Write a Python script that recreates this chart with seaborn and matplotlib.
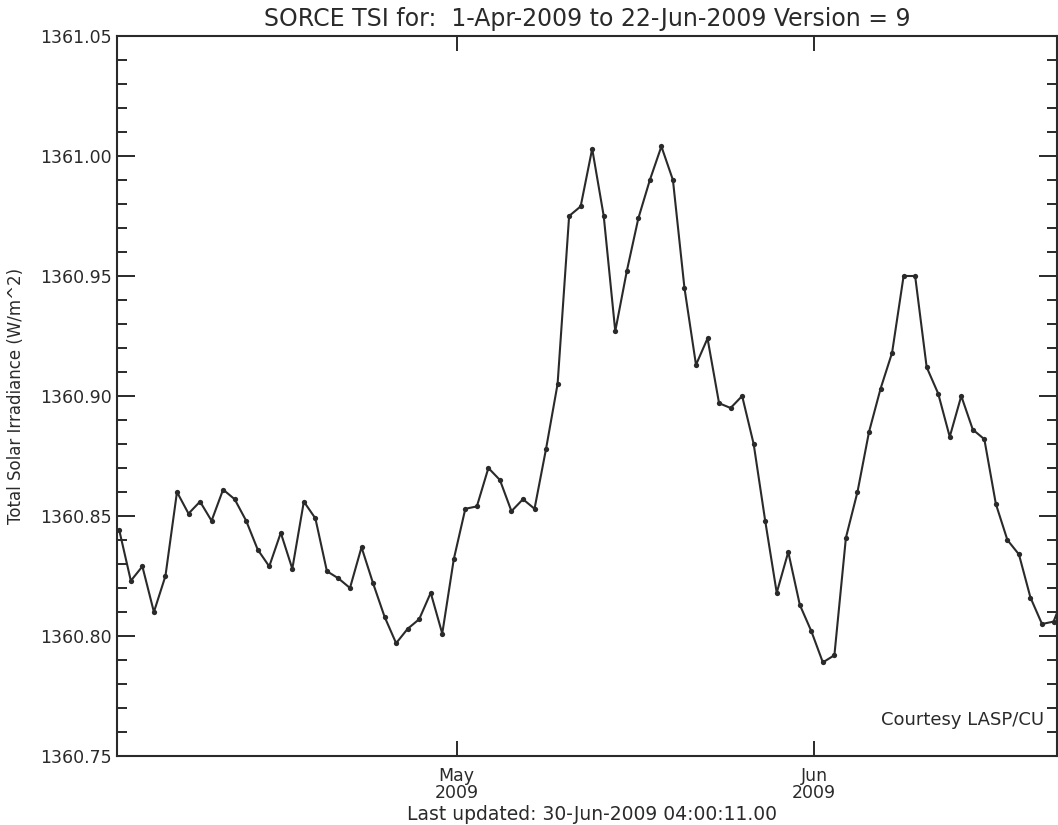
import numpy as np
import pandas as pd
import matplotlib
matplotlib.use("Agg")
from matplotlib import pyplot as plt
import matplotlib.dates as mdates
from matplotlib.ticker import MultipleLocator, AutoMinorLocator, FormatStrFormatter
import seaborn as sns

# SORCE TSI daily values, 1 Apr 2009 - 22 Jun 2009
dates = pd.date_range("2009-04-01 18:00", "2009-06-22 18:00", freq="D")
tsi = [
    1360.844, 1360.823, 1360.829, 1360.810, 1360.825, 1360.860, 1360.851, 1360.856,
    1360.848, 1360.861, 1360.857, 1360.848, 1360.836, 1360.829, 1360.843, 1360.828,
    1360.856, 1360.849, 1360.827, 1360.824, 1360.820, 1360.837, 1360.822, 1360.808,
    1360.797, 1360.803, 1360.807, 1360.818, 1360.801, 1360.832, 1360.853, 1360.854,
    1360.870, 1360.865, 1360.852, 1360.857, 1360.853, 1360.878, 1360.905, 1360.975,
    1360.979, 1361.003, 1360.975, 1360.927, 1360.952, 1360.974, 1360.990, 1361.004,
    1360.990, 1360.945, 1360.913, 1360.924, 1360.897, 1360.895, 1360.900, 1360.880,
    1360.848, 1360.818, 1360.835, 1360.813, 1360.802, 1360.789, 1360.792, 1360.841,
    1360.860, 1360.885, 1360.903, 1360.918, 1360.950, 1360.950, 1360.912, 1360.901,
    1360.883, 1360.900, 1360.886, 1360.882, 1360.855, 1360.840, 1360.834, 1360.816,
    1360.805, 1360.806, 1360.818,
]

df = pd.DataFrame({"date": dates, "tsi": tsi})

title = "SORCE TSI for:  1-Apr-2009 to 22-Jun-2009 Version = 9"
ylabel = "Total Solar Irradiance (W/m^2)"
footer = "Last updated: 30-Jun-2009 04:00:11.00"
credit = "Courtesy LASP/CU"

sns.set_style("ticks")
plt.rcParams['font.family'] = ['DejaVu Sans']

ink = "#2a2a2a"

fig = plt.figure(figsize=(10.58, 8.25), dpi=100)
ax = fig.add_axes([117 / 1058, 69 / 825, 940 / 1058, 720 / 825])

sns.lineplot(data=df, x="date", y="tsi", ax=ax, color=ink, linewidth=1.5,
             marker="o", markersize=3.8, markeredgewidth=0)

ax.set_xlim(pd.Timestamp("2009-04-01 13:12"), pd.Timestamp("2009-06-22 01:12"))
ax.set_ylim(1360.75, 1361.05)

ax.xaxis.set_major_locator(mdates.MonthLocator())
ax.xaxis.set_major_formatter(mdates.DateFormatter("%b\n%Y"))
ax.yaxis.set_major_locator(MultipleLocator(0.05))
ax.yaxis.set_minor_locator(AutoMinorLocator(5))
ax.yaxis.set_major_formatter(FormatStrFormatter("%.2f"))

for s in ax.spines.values():
    s.set_visible(True)
    s.set_linewidth(1.5)
    s.set_color(ink)

ax.tick_params(axis="y", which="major", direction="in", length=13, width=1.4,
               left=True, right=True, labelsize=12.5, labelcolor=ink, color=ink, pad=4)
ax.tick_params(axis="y", which="minor", direction="in", length=7, width=1.4,
               left=True, right=True, color=ink)
ax.tick_params(axis="x", which="major", direction="in", length=11, width=1.4,
               bottom=True, top=True, labelsize=12.5, labelcolor=ink, color=ink, pad=8)

ax.set_xlabel("")
ax.set_ylabel(ylabel, fontsize=12, color=ink)
ax.yaxis.set_label_coords(-0.098, 0.5)
ax.set_title(title, fontsize=17, color=ink, pad=7)

ax.text(0.986, 0.05, credit, transform=ax.transAxes, ha="right", va="center",
        fontsize=13, color=ink)
fig.text(592 / 1058, 11 / 825, footer, ha="center", va="center", fontsize=13.5, color=ink)

fig.canvas.draw()
plt.setp(ax.get_xticklabels(), linespacing=0.9)

fig.savefig("out.png", dpi=100)
